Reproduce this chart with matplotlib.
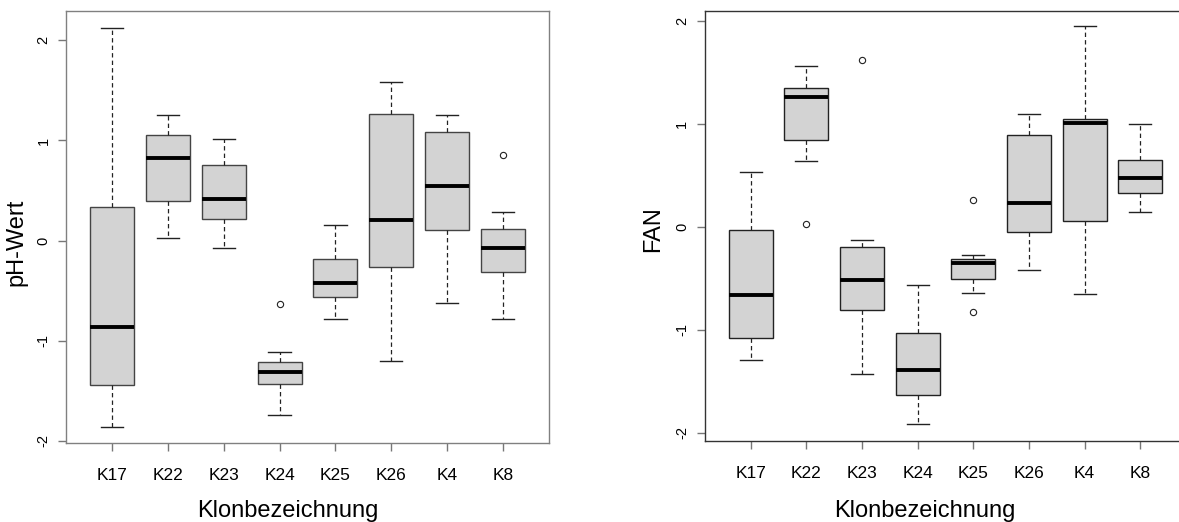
import matplotlib
matplotlib.use("Agg")
import matplotlib.pyplot as plt

plt.rcParams["font.family"] = ["Liberation Sans", "DejaVu Sans"]

# Clone labels (alphabetical order as in the factor levels)
clones = ["K17", "K22", "K23", "K24", "K25", "K26", "K4", "K8"]

# Standardised pH value: five-number summaries per clone
ph_whislo = [-1.864, 0.030, -0.073, -1.740, -0.785, -1.201, -0.622, -0.785]
ph_q1     = [-1.438, 0.396, 0.220, -1.431, -0.559, -0.263, 0.106, -0.309]
ph_med    = [-0.865, 0.822, 0.419, -1.314, -0.423, 0.203, 0.542, -0.073]
ph_q3     = [0.333, 1.055, 0.752, -1.211, -0.186, 1.261, 1.088, 0.113]
ph_whishi = [2.120, 1.255, 1.015, -1.108, 0.153, 1.584, 1.255, 0.283]
ph_fliers = [[], [], [], [-0.632], [], [], [], [0.859]]

# Standardised free amino nitrogen (FAN)
fan_whislo = [-1.294, 0.641, -1.430, -1.919, -0.641, -0.421, -0.650, 0.146]
fan_q1     = [-1.078, 0.841, -0.806, -1.638, -0.511, -0.049, 0.052, 0.330]
fan_med    = [-0.663, 1.256, -0.521, -1.395, -0.353, 0.230, 1.010, 0.472]
fan_q3     = [-0.029, 1.346, -0.194, -1.032, -0.311, 0.893, 1.049, 0.650]
fan_whishi = [0.531, 1.557, -0.133, -0.563, -0.278, 1.097, 1.945, 0.994]
fan_fliers = [[], [0.029], [1.621], [], [0.259, -0.828], [], [], []]


def make_stats(lo, q1, med, q3, hi, fl):
    return [dict(whislo=a, q1=b, med=c, q3=d, whishi=e, fliers=f, label=n)
            for a, b, c, d, e, f, n in zip(lo, q1, med, q3, hi, fl, clones)]


W, H = 1179, 522
fig = plt.figure(figsize=(W / 100, H / 100), dpi=100)


def px_axes(x0, x1, y0, y1):
    return fig.add_axes([x0 / W, 1 - y1 / H, (x1 - x0) / W, (y1 - y0) / H])


def draw(ax, stats, ylim, ylabel, frame_col, edge_col, xlab_pos, ylab_pos):
    positions = list(range(1, len(clones) + 1))
    ax.bxp(stats, positions=positions, widths=0.79, capwidths=0.40,
           patch_artist=True, showfliers=True,
           boxprops=dict(facecolor="#d3d3d3", edgecolor=edge_col, linewidth=1.0),
           medianprops=dict(color="black", linewidth=2.8, solid_capstyle="butt"),
           whiskerprops=dict(color="#222222", linewidth=0.9, linestyle=(0, (3.5, 2.5))),
           capprops=dict(color="#222222", linewidth=1.0),
           flierprops=dict(marker="o", markersize=4.5, markerfacecolor="none",
                           markeredgecolor="#222222", markeredgewidth=0.8))
    ax.set_xlim(0.17, 8.83)
    ax.set_ylim(*ylim)
    ax.set_xticks(positions)
    ax.set_xticklabels(clones, fontsize=12.5)
    ax.set_yticks([-2, -1, 0, 1, 2])
    ax.set_yticklabels(["-2", "-1", "0", "1", "2"], fontsize=10.5,
                       rotation=90, va="center")
    ax.tick_params(axis="x", length=5.8, width=1.0, color="#777777", pad=12)
    ax.tick_params(axis="y", length=5.5, width=1.0, color="#777777", pad=5.5)
    for s in ax.spines.values():
        s.set_color(frame_col)
        s.set_linewidth(1.0)
    ax.set_xlabel("Klonbezeichnung", fontsize=17)
    ax.xaxis.label.set_va("baseline")
    ax.xaxis.set_label_coords(*xlab_pos)
    ax.set_ylabel(ylabel, fontsize=17)
    ax.yaxis.label.set_va("baseline")
    ax.yaxis.set_label_coords(*ylab_pos)


ax1 = px_axes(66, 549, 10.7, 443)
draw(ax1, make_stats(ph_whislo, ph_q1, ph_med, ph_q3, ph_whishi, ph_fliers),
     (-2.02, 2.295), "pH-Wert", "#808080", "#444444",
     (0.4586, -0.1712), (-0.0911, 0.465))

ax2 = px_axes(704.5, 1186.5, 10.7, 441.3)
draw(ax2, make_stats(fan_whislo, fan_q1, fan_med, fan_q3, fan_whishi, fan_fliers),
     (-2.083, 2.097), "FAN", "#333333", "#222222",
     (0.4575, -0.1758), (-0.0944, 0.493))

fig.savefig("out.png", dpi=100)
